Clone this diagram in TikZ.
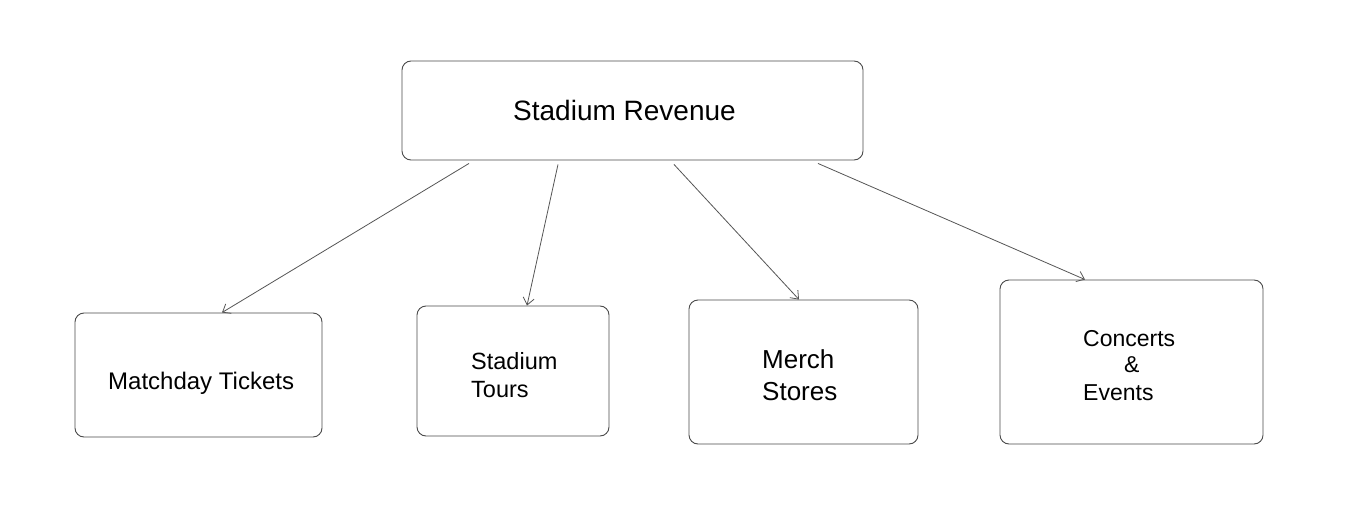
\documentclass[tikz,border=0pt]{standalone}
\usepackage{fontspec}
\setmainfont{Liberation Sans}
\usetikzlibrary{arrows.meta}
\definecolor{edge}{HTML}{4A4A4A}
\definecolor{conn}{HTML}{555555}
\tikzset{
  box/.style={draw=edge, line width=0.9pt, rounded corners=9pt, inner sep=0pt, fill=white},
  lbl/.style={anchor=base west, inner sep=0pt, text=black},
  conn/.style={draw=conn, line width=0.8pt, -{Straight Barb[length=7pt,width=11pt,line width=0.8pt]}},
}
\newcommand{\fs}[1]{\fontsize{#1}{#1}\selectfont}
\begin{document}
\begin{tikzpicture}[x=1pt,y=-1pt]
\useasboundingbox[fill=white] (0,0) rectangle (1363,506);
% boxes
\node[box, minimum width=461pt, minimum height=99pt] (top) at (632.5,110.5) {};
\node[box, minimum width=247pt, minimum height=124pt] (mt) at (198.5,375) {};
\node[box, minimum width=192pt, minimum height=130pt] (st) at (513,371) {};
\node[box, minimum width=229pt, minimum height=144pt] (ms) at (803.5,372) {};
\node[box, minimum width=263pt, minimum height=164pt] (ce) at (1131.5,362) {};
% texts
\node[lbl, font=\fs{28}] (ttop) at (513,120) {Stadium Revenue};
\node[lbl, font=\fs{24}] (tmt) at (108,389) {Matchday Tickets};
\node[lbl, font=\fs{23.5}] (tst1) at (471,369) {Stadium};
\node[lbl, font=\fs{23.5}] (tst2) at (471,397) {Tours};
\node[lbl, font=\fs{26}] (tms1) at (762,368) {Merch};
\node[lbl, font=\fs{26}] (tms2) at (762,400) {Stores};
\node[lbl, font=\fs{23}] (tce1) at (1083,346) {Concerts};
\node[lbl, font=\fs{23}] (tce2) at (1124,372) {\&};
\node[lbl, font=\fs{23}] (tce3) at (1083,400) {Events};
% connectors
\draw[conn] ([xshift=-163.5pt,yshift=-3pt]top.south) -- ([xshift=23.5pt]mt.north);
\draw[conn] ([xshift=-74.5pt,yshift=-4pt]top.south) -- ([xshift=14pt]st.north);
\draw[conn] ([xshift=41.5pt,yshift=-4pt]top.south) -- ([xshift=-4.5pt]ms.north);
\draw[conn] ([xshift=185.5pt,yshift=-3pt]top.south) -- ([xshift=-46.5pt]ce.north);
\end{tikzpicture}
\end{document}
